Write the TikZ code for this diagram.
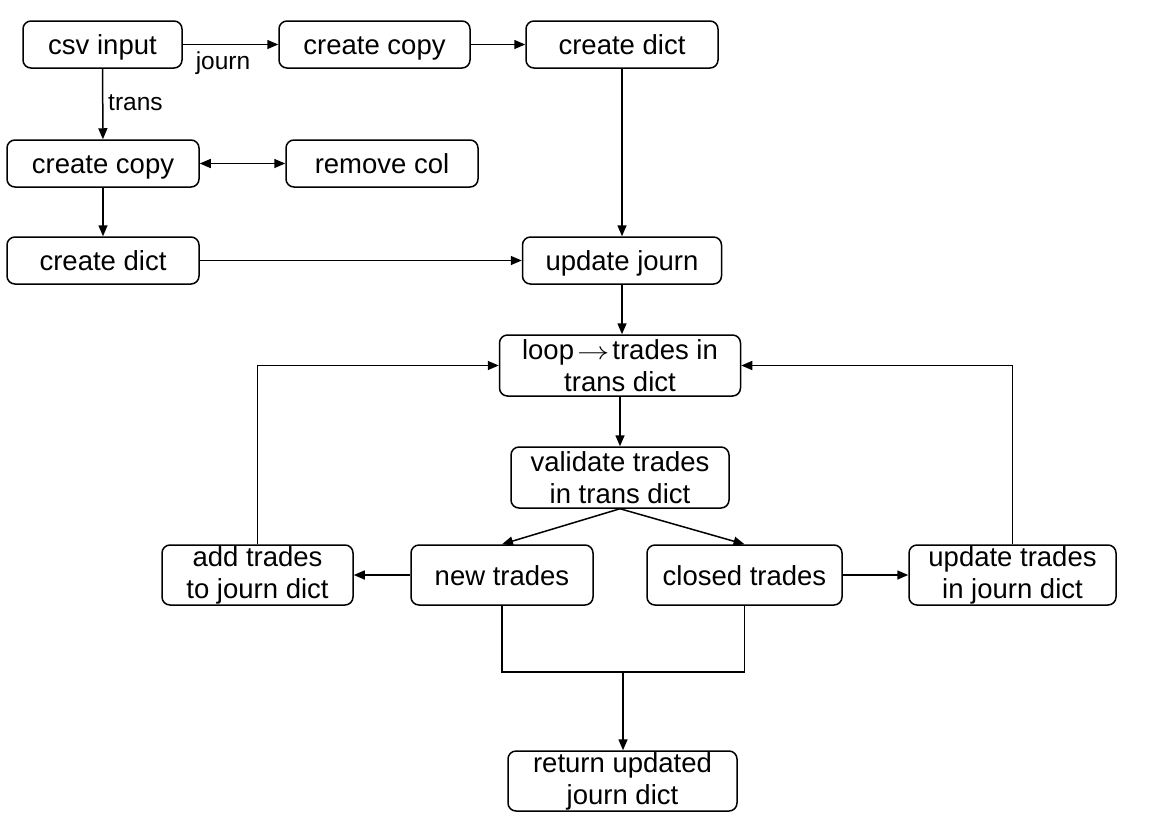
\documentclass[tikz,border=0pt]{standalone}
\usepackage{fontspec}
\setmainfont{Liberation Sans}
\usetikzlibrary{arrows.meta}
\tikzset{
  box/.style={draw, rounded corners=8pt, line width=1.5pt, align=center, inner sep=0pt,
    font=\fontsize{27.5}{32}\selectfont},
  onebox/.style={box, text height=25pt, text depth=5pt},
  arr/.style={line width=1.5pt, -{Triangle[length=11pt,width=9pt]}},
  barr/.style={line width=1.5pt, {Triangle[length=11pt,width=9pt]}-{Triangle[length=11pt,width=9pt]}},
  ln/.style={line width=1.5pt},
  lbl/.style={inner sep=0pt, font=\fontsize{24.5}{28}\selectfont}
}
\begin{document}
\begin{tikzpicture}[x=1pt,y=-1pt]
\useasboundingbox (0,0) rectangle (1153,822);
% row 1
\node[onebox, minimum width=159pt, minimum height=47pt] (csv) at (102.5,44.5) {csv input};
\node[onebox, minimum width=191pt, minimum height=47pt] (cc1) at (374.5,44.5) {create copy};
\node[onebox, minimum width=192pt, minimum height=47pt] (cd1) at (622,44.5) {create dict};
% row 2
\node[onebox, minimum width=192pt, minimum height=47pt] (cc2) at (103,163.5) {create copy};
\node[onebox, minimum width=192pt, minimum height=47pt] (rc) at (382,163.5) {remove col};
% row 3
\node[onebox, minimum width=192pt, minimum height=47pt] (cd2) at (103,260.5) {create dict};
\node[onebox, minimum width=199pt, minimum height=47pt] (uj) at (622,260.5) {update journ};
% loop
\node[box, minimum width=241pt, minimum height=61pt] (loop) at (620,365.5) {loop\hspace{3pt}\scalebox{1.3}[1]{$\rightarrow$}\hspace{3pt}trades in\\trans dict};
\node[box, minimum width=218pt, minimum height=61pt] (val) at (620,477.5) {validate trades\\in trans dict};
% row trades
\node[box, minimum width=191pt, minimum height=60pt] (add) at (257.5,575) {add trades\\to journ dict};
\node[onebox, minimum width=182pt, minimum height=60pt] (new) at (502,575) {new trades};
\node[onebox, minimum width=195pt, minimum height=60pt] (closed) at (744.5,575) {closed trades};
\node[box, minimum width=207pt, minimum height=60pt] (upd) at (1012.5,575) {update trades\\in journ dict};
% return
\node[box, minimum width=229pt, minimum height=60pt] (ret) at (622.5,781) {return updated\\journ dict};
% labels
\node[lbl, anchor=base] (ljourn) at (223,69) {journ};
\node[lbl, anchor=base west] (ltrans) at (108,110) {trans};
% connectors
\draw[arr] (csv) -- (cc1);
\draw[arr] (cc1) -- (cd1);
\draw[arr] (csv) -- (cc2);
\draw[barr] (cc2) -- (rc);
\draw[arr] (cc2) -- (cd2);
\draw[arr] (cd2) -- (uj);
\draw[arr] (cd1) -- (uj);
\draw[arr] (uj.south) -- (uj.south |- loop.north);
\draw[arr] (loop) -- (val);
\draw[arr] (val.south) -- (new.north);
\draw[arr] (val.south) -- (closed.north);
\draw[arr] (new) -- (add);
\draw[arr] (closed) -- (upd);
\draw[arr] (add.north) |- (loop.west);
\draw[arr] (upd.north) |- (loop.east);
\coordinate (m) at (623,672);
\draw[ln] (new.south) |- (m) -| (closed.south);
\draw[arr] (m) -- (m |- ret.north);
\end{tikzpicture}
\end{document}
